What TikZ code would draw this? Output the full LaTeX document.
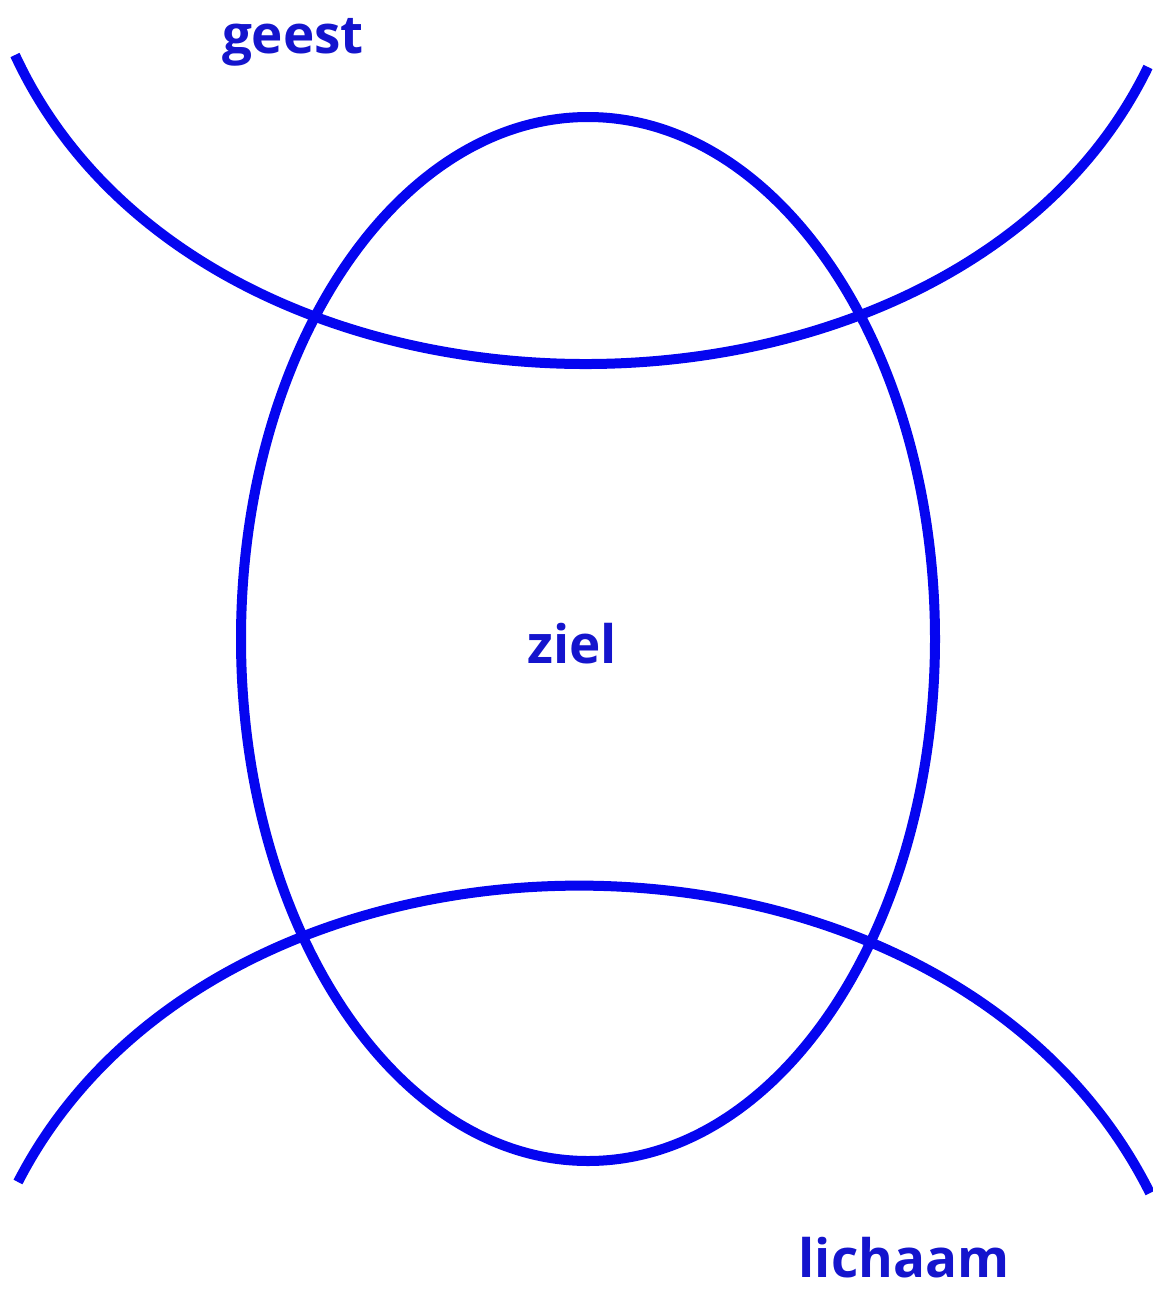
\documentclass[tikz,border=0pt]{standalone}
\usepackage{fontspec}
\setmainfont{Open Sans}
\definecolor{lineblue}{RGB}{5,5,240}
\definecolor{textblue}{RGB}{20,20,205}
\begin{document}
\begin{tikzpicture}[x=1pt,y=-1pt,
  curve/.style={draw=lineblue,line width=10pt},
  lbl/.style={text=textblue,font=\bfseries\fontsize{53}{58}\selectfont,anchor=base,inner sep=0pt}]
\useasboundingbox (0,0) rectangle (1153,1291);
% soul ellipse
\draw[curve] (588,639) ellipse [x radius=347pt, y radius=522pt];
% spirit arc
\coordinate (gL) at (15,55);
\coordinate (gR) at (1148,67);
\draw[curve] (gL) .. controls (205,465) and (955,465) .. (gR);
% body arc
\coordinate (lL) at (18,1182);
\coordinate (lR) at (1150,1193);
\draw[curve] (lL) .. controls (222,785) and (946,785) .. (lR);
% labels
\node[lbl] (geest) at (293,53) {geest};
\node[lbl] (ziel) at (572,663) {ziel};
\node[lbl] (lichaam) at (904,1277) {lichaam};
\end{tikzpicture}
\end{document}
